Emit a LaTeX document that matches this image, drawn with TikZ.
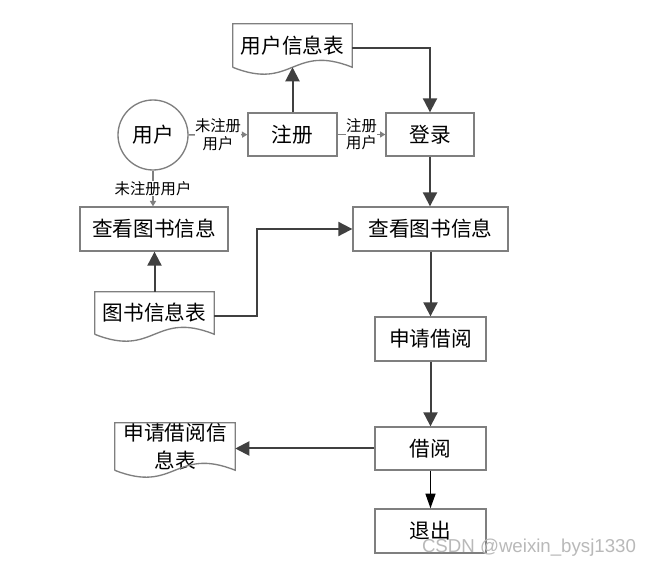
\documentclass[tikz,border=0pt]{standalone}
\usepackage{fontspec}
\setmainfont{Noto Sans CJK SC}
\newfontfamily\wmfont{Liberation Sans}
\usetikzlibrary{arrows.meta}
\definecolor{boxline}{HTML}{7F7F7F}
\definecolor{arrowc}{HTML}{404040}
\newcommand\docpath[1]{%
  \draw[docline] (#1.south west) -- (#1.north west) -- (#1.north east) -- (#1.south east)
    .. controls ([yshift=18pt]#1.south) and ([yshift=-18pt]#1.south) .. (#1.south west);}
\begin{document}
\begin{tikzpicture}[x=0.75pt,y=-0.75pt,
  box/.style={draw=boxline, line width=1pt, fill=white, inner sep=0pt, font=\fontsize{15.5pt}{18pt}\selectfont},
  docnode/.style={draw=none, inner sep=0pt, align=center, font=\fontsize{15.5pt}{21pt}\selectfont},
  docline/.style={boxline, line width=1pt},
  main/.style={draw=arrowc, line width=1.5pt, -{Triangle[length=10.5pt,width=10.5pt]}},
  thinarrow/.style={draw=boxline, line width=1pt, -{Triangle[length=4pt,width=4.5pt]}},
  lbl/.style={fill=white, inner sep=0pt, align=center, text=black, font=\fontsize{11.5pt}{13pt}\selectfont},
  exitarrow/.style={draw=black, line width=1pt, -{Triangle[length=11pt,width=7.5pt]}}
]
\useasboundingbox[fill=white] (0,0) rectangle (654,566);

% boxes
\node[box, circle, minimum size=52.5pt] (user) at (153,135) {用户};
\node[box, minimum width=66.75pt, minimum height=32.25pt] (reg) at (292.5,134.5) {注册};
\node[box, minimum width=66pt, minimum height=32.25pt] (login) at (430,134.5) {登录};
\node[box, minimum width=111pt, minimum height=33pt] (lookL) at (154,229) {查看图书信息};
\node[box, minimum width=116.25pt, minimum height=33pt] (lookR) at (430.5,229) {查看图书信息};
\node[box, minimum width=83.25pt, minimum height=33pt] (apply) at (430.5,339) {申请借阅};
\node[box, minimum width=83.25pt, minimum height=32.25pt] (borrow) at (430.5,448.5) {借阅};
\node[box, minimum width=83.25pt, minimum height=33pt] (quit) at (430.5,531) {退出};

% documents
\node[docnode, minimum width=89.25pt, minimum height=32.25pt] (uinfo) at (292.5,45.5) {用户信息表};
\docpath{uinfo}
\node[docnode, minimum width=89.25pt, minimum height=31.5pt] (tsb) at (154.5,313) {图书信息表};
\docpath{tsb}
\node[docnode, minimum width=90pt, minimum height=30.75pt] (binfo) at (175,446.5) {申请借阅信\\息表};
\docpath{binfo}

% connectors
\draw[main] (reg.north) -- (reg.north |- uinfo.south);
\draw[main] ([yshift=-2pt]uinfo.east) -| (login.north);
\draw[thinarrow] (user) -- node[lbl] {未注册\\用户} (reg);
\draw[thinarrow] (reg) -- node[lbl] {注册\\用户} (login);
\draw[thinarrow] (user.south) -- node[lbl] {未注册用户} (user.south |- lookL.north);
\draw[main] (login.south) -- (login.south |- lookR.north);
\draw[main] (tsb.north) -- (tsb.north |- lookL.south);
\draw[main] ([yshift=-2pt]tsb.east) -- ++(43,0) |- (lookR.west);
\draw[main] (lookR.south) -- (lookR.south |- apply.north);
\draw[main] (apply.south) -- (apply.south |- borrow.north);
\draw[main] (borrow.west) -- (borrow.west -| binfo.east);
\draw[exitarrow] (borrow.south) -- (borrow.south |- quit.north);

% watermark
\node[text=gray!55, font=\wmfont\fontsize{14pt}{15pt}\selectfont, inner sep=0pt] (wm) at (529,548) {CSDN @weixin\_bysj1330};
\end{tikzpicture}
\end{document}
